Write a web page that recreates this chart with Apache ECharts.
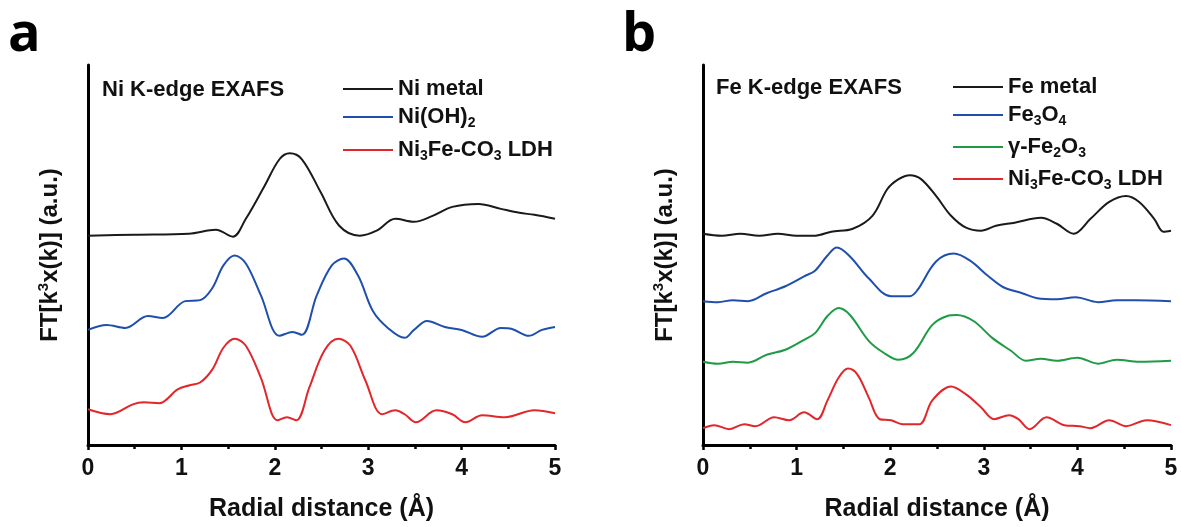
<!DOCTYPE html>
<html>
<head>
<meta charset="utf-8">
<script src="https://cdn.jsdelivr.net/npm/echarts@6/dist/echarts.min.js"></script>
<style>
  html, body { margin: 0; padding: 0; background: #fff; }
  #chart { width: 1181px; height: 527px; }
</style>
</head>
<body>
<div id="chart"></div>
<script>
// ---- Ni K-edge EXAFS (panel a) — offset-stacked FT magnitudes, arbitrary units ----
const niMetalR   = [0, 0.5, 1.08, 1.37, 1.55, 1.69, 1.89, 2.05, 2.16, 2.29, 2.49, 2.69, 2.91, 3.09, 3.29, 3.49, 3.69, 3.9, 4.18, 4.42, 4.62, 4.78, 5.0];
const niMetalFT  = [211, 212, 213, 217, 210, 228, 261, 288, 294, 288, 255, 221, 211, 216, 228, 225, 231, 240, 243, 238, 234, 232, 228];

const niOH2R     = [0, 0.2, 0.4, 0.64, 0.8, 1.04, 1.2, 1.33, 1.45, 1.57, 1.69, 1.85, 2.05, 2.19, 2.29, 2.45, 2.61, 2.74, 2.89, 3.05, 3.21, 3.39, 3.49, 3.63, 3.82, 4.0, 4.22, 4.42, 4.54, 4.72, 4.86, 5.0];
const niOH2FT    = [116, 121, 118, 130, 128, 145, 146, 158, 181, 191, 183, 151, 110, 114, 111, 151, 181, 188, 171, 135, 118, 108, 116, 125, 119, 116, 109, 118, 117, 110, 116, 119];

const niLdhR     = [0, 0.24, 0.48, 0.6, 0.76, 0.96, 1.08, 1.2, 1.33, 1.45, 1.57, 1.69, 1.85, 2.03, 2.13, 2.23, 2.37, 2.53, 2.68, 2.81, 2.97, 3.15, 3.29, 3.39, 3.51, 3.73, 3.9, 4.04, 4.22, 4.46, 4.78, 5.0];
const niLdhFT    = [36, 31, 41, 43, 42, 56, 60, 63, 76, 98, 107, 100, 68, 25, 28, 25, 58, 95, 107, 100, 65, 31, 35, 31, 23, 35, 31, 23, 30, 28, 35, 32];

// ---- Fe K-edge EXAFS (panel b) ----
const feMetalR   = [0, 0.2, 0.4, 0.6, 0.8, 1.0, 1.2, 1.37, 1.6, 1.81, 1.97, 2.09, 2.21, 2.33, 2.49, 2.65, 2.81, 2.97, 3.13, 3.33, 3.61, 3.78, 3.96, 4.14, 4.34, 4.52, 4.66, 4.82, 4.92, 5.0];
const feMetalFT  = [213, 211, 213, 211, 213, 211, 211, 215, 218, 231, 258, 268, 272, 268, 251, 231, 219, 216, 221, 224, 229, 223, 213, 228, 245, 251, 245, 228, 215, 216];

const fe3o4R     = [0, 0.16, 0.32, 0.48, 0.68, 0.88, 1.08, 1.2, 1.33, 1.43, 1.57, 1.77, 2.01, 2.21, 2.29, 2.49, 2.68, 2.85, 3.05, 3.21, 3.41, 3.57, 3.78, 3.98, 4.22, 4.42, 4.62, 5.0];
const fe3o4FT    = [145, 144, 146, 145, 153, 160, 170, 176, 191, 199, 190, 168, 150, 150, 156, 185, 193, 186, 170, 159, 153, 148, 147, 149, 144, 146, 146, 145];

const fe2o3R     = [0, 0.16, 0.32, 0.48, 0.68, 0.88, 1.08, 1.2, 1.33, 1.45, 1.57, 1.77, 1.93, 2.09, 2.25, 2.45, 2.61, 2.71, 2.89, 3.09, 3.29, 3.45, 3.61, 3.78, 4.0, 4.22, 4.42, 4.66, 5.0];
const fe2o3FT    = [84, 82, 84, 83, 91, 96, 106, 113, 130, 138, 131, 105, 93, 86, 93, 121, 130, 131, 125, 108, 95, 85, 87, 85, 88, 82, 86, 84, 85];

const feLdhR     = [0, 0.12, 0.28, 0.44, 0.56, 0.76, 0.92, 1.08, 1.22, 1.33, 1.45, 1.55, 1.65, 1.77, 1.89, 2.01, 2.13, 2.31, 2.45, 2.65, 2.81, 2.97, 3.11, 3.27, 3.37, 3.49, 3.67, 3.86, 4.02, 4.14, 4.34, 4.52, 4.74, 5.0];
const feLdhFT    = [17, 20, 16, 21, 19, 28, 25, 33, 26, 45, 68, 77, 71, 48, 26, 25, 21, 21, 45, 59, 51, 38, 26, 30, 26, 16, 28, 20, 19, 17, 25, 19, 25, 20];

const xTicks = [0, 1, 2, 3, 4, 5];

const FONT = '"Liberation Sans", Arial, sans-serif';
const BLACK = '#1a1a1a', BLUE = '#1f4fae', RED = '#e2262a', GREEN = '#1f9a45';

const zip = (xs, ys) => xs.map((x, i) => [x, ys[i]]);

// Legend labels with subscripts
const legendRich = {
  m: { fontFamily: FONT, fontWeight: 'bold', fontSize: 22, color: '#111', lineHeight: 28 },
  s: { fontFamily: FONT, fontWeight: 'bold', fontSize: 14, color: '#111', padding: [13, 0, 0, 0] }
};
const legendText = {
  'Ni metal': '{m|Ni metal}',
  'Ni(OH)2': '{m|Ni(OH)}{s|2}',
  'Ni3Fe-CO3 LDH': '{m|Ni}{s|3}{m|Fe-CO}{s|3}{m| LDH}',
  'Fe metal': '{m|Fe metal}',
  'Fe3O4': '{m|Fe}{s|3}{m|O}{s|4}',
  'γ-Fe2O3': '{m|γ-Fe}{s|2}{m|O}{s|3}',
  'Ni3Fe-CO3 LDH ': '{m|Ni}{s|3}{m|Fe-CO}{s|3}{m| LDH}'
};

function legendItem(name, left, centerY) {
  return {
    data: [name], left: left, top: centerY - 14, orient: 'vertical', padding: 0,
    icon: 'rect', itemWidth: 50, itemHeight: 2, itemGap: 0,
    selectedMode: false,
    formatter: n => legendText[n],
    textStyle: { rich: legendRich, padding: 0 }
  };
}

function xAxis(grid) {
  return {
    type: 'value', gridIndex: grid, min: 0, max: 5, interval: 1,
    name: 'Radial distance (Å)', nameLocation: 'middle', nameGap: 52,
    nameTextStyle: { fontFamily: FONT, fontWeight: 'bold', fontSize: 25, color: '#111' },
    axisLine: { show: true, onZero: false, lineStyle: { color: '#000', width: 3 } },
    axisTick: { show: true, inside: false, length: 5, lineStyle: { color: '#000', width: 2.5 } },
    minorTick: { show: true, splitNumber: 2, length: 4, lineStyle: { color: '#000', width: 2.5 } },
    axisLabel: { fontFamily: FONT, fontWeight: 'bold', fontSize: 23, color: '#111', margin: 12,
                 formatter: v => (xTicks.includes(v) ? String(v) : '') },
    splitLine: { show: false }
  };
}

function yAxis(grid) {
  return {
    type: 'value', gridIndex: grid, min: 0, max: 383,
    name: '{m|FT[k}{sup|3}{m|x(k)] (a.u.)}', nameLocation: 'middle', nameGap: 23, nameRotate: 90,
    nameTextStyle: {
      fontFamily: FONT, fontWeight: 'bold', fontSize: 24, color: '#111',
      rich: {
        m: { fontFamily: FONT, fontWeight: 'bold', fontSize: 24, color: '#111', lineHeight: 30 },
        sup: { fontFamily: FONT, fontWeight: 'bold', fontSize: 15, color: '#111', padding: [0, 0, 12, 0] }
      }
    },
    axisLine: { show: true, lineStyle: { color: '#000', width: 3 } },
    axisTick: { show: false }, axisLabel: { show: false }, splitLine: { show: false }
  };
}

function line(name, grid, xs, ys, color) {
  return {
    name: name, type: 'line', xAxisIndex: grid, yAxisIndex: grid,
    data: zip(xs, ys), showSymbol: false, smooth: 0.35,
    lineStyle: { color: color, width: 2 }, itemStyle: { color: color },
    silent: true, animation: false
  };
}

const chart = echarts.init(document.getElementById('chart'), null, { renderer: 'canvas' });
chart.setOption({
  backgroundColor: '#fff',
  animation: false,
  title: [
    { text: 'a', left: 3, top: 4, padding: 5, textStyle: { fontFamily: '"Open Sans", sans-serif', fontWeight: 'bold', fontSize: 54, color: '#000' } },
    { text: 'b', left: 617, top: 4, padding: 5, textStyle: { fontFamily: '"Open Sans", sans-serif', fontWeight: 'bold', fontSize: 54, color: '#000' } },
    { text: 'Ni K-edge EXAFS', left: 97, top: 74, textStyle: { fontFamily: FONT, fontWeight: 'bold', fontSize: 22, color: '#111' } },
    { text: 'Fe K-edge EXAFS', left: 711, top: 72, textStyle: { fontFamily: FONT, fontWeight: 'bold', fontSize: 22, color: '#111' } }
  ],
  legend: [
    legendItem('Ni metal', 343, 92),
    legendItem('Ni(OH)2', 343, 120),
    legendItem('Ni3Fe-CO3 LDH', 343, 153),
    legendItem('Fe metal', 953, 90),
    legendItem('Fe3O4', 953, 118),
    legendItem('γ-Fe2O3', 953, 150),
    legendItem('Ni3Fe-CO3 LDH ', 953, 182)
  ],
  grid: [
    { left: 88, top: 65, width: 467, height: 383, containLabel: false },
    { left: 703, top: 65, width: 468, height: 383, containLabel: false }
  ],
  xAxis: [xAxis(0), xAxis(1)],
  yAxis: [yAxis(0), yAxis(1)],
  series: [
    line('Ni metal', 0, niMetalR, niMetalFT, BLACK),
    line('Ni(OH)2', 0, niOH2R, niOH2FT, BLUE),
    line('Ni3Fe-CO3 LDH', 0, niLdhR, niLdhFT, RED),
    line('Fe metal', 1, feMetalR, feMetalFT, BLACK),
    line('Fe3O4', 1, fe3o4R, fe3o4FT, BLUE),
    line('γ-Fe2O3', 1, fe2o3R, fe2o3FT, GREEN),
    line('Ni3Fe-CO3 LDH ', 1, feLdhR, feLdhFT, RED)
  ]
});
</script>
</body>
</html>
